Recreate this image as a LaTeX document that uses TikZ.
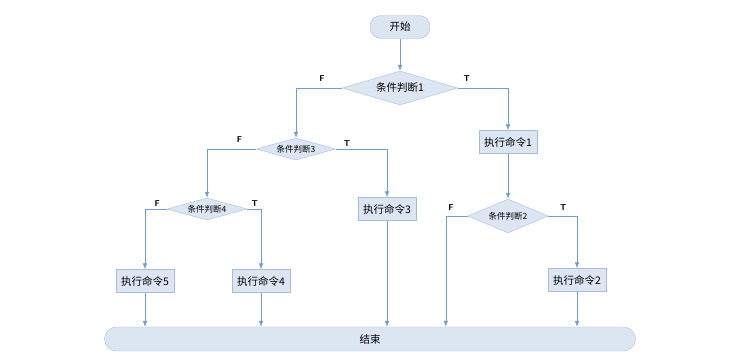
\documentclass[tikz,border=0pt]{standalone}
\usepackage{fontspec}
\usepackage{xcolor}
\usepackage{tikz}
\usetikzlibrary{shapes.geometric, positioning, arrows.meta}
\newfontfamily\cjk{Noto Sans CJK SC}
\definecolor{boxfill}{HTML}{DCE6F2}
\definecolor{boxline}{HTML}{A9BCD6}
\definecolor{flowline}{HTML}{739CCB}

\tikzset{
  terminal/.style={rectangle, rounded corners=11pt, draw=boxline, fill=boxfill,
    minimum height=23pt, font=\cjk\fontsize{10.5}{12}\selectfont},
  decision/.style={diamond, aspect=3.4, inner sep=0pt, draw=boxline, fill=boxfill,
    font=\cjk\fontsize{8.5}{10}\selectfont},
  command/.style={rectangle, draw=boxline, fill=boxfill, minimum width=58pt,
    minimum height=23pt, inner sep=1pt, font=\cjk\fontsize{10.5}{12}\selectfont},
  flow/.style={draw=flowline, line width=0.6pt, ->},
  tf/.style={font=\sffamily\bfseries\fontsize{8.5}{10}\selectfont, inner sep=1pt}
}

\begin{document}
\begin{tikzpicture}[>={Latex[length=6pt,width=4.5pt]}, on grid, x=1pt, y=-1pt]
    \useasboundingbox (0,0) rectangle (747,359);
    \node[terminal, minimum width=60pt] (start) at (400,27) {开始};
    \node[decision, minimum width=115pt, minimum height=34pt, font=\cjk\fontsize{10.5}{12}\selectfont] (d1) [below=61pt of start] {条件判断1};
    \node[decision, minimum width=79pt, minimum height=22pt] (d3) [below left=61pt and 104pt of d1] {条件判断3};
    \node[command] (c1) [below right=54pt and 108pt of d1] {执行命令1};
    \node[decision, minimum width=80pt, minimum height=22pt] (d4) [below left=60pt and 89pt of d3] {条件判断4};
    \node[command] (c3) [below right=60pt and 91pt of d3] {执行命令3};
    \node[decision, minimum width=80pt, minimum height=34pt] (d2) [below=74pt of c1] {条件判断2};
    \node[command] (c5) [below left=72pt and 62pt of d4] {执行命令5};
    \node[command] (c4) [below right=72pt and 54pt of d4] {执行命令4};
    \node[command] (c2) [below right=64pt and 69pt of d2] {执行命令2};
    \node[terminal, minimum width=531pt, minimum height=24pt, rounded corners=12pt] (end) at (370,339) {结束};
    \coordinate[left=22pt of d2.west] (f2);

    \draw[flow] (start) -- (d1);
    \draw[flow] (d1.west) -| node[tf, pos=0.22, above=5pt] {F} (d3.north);
    \draw[flow] (d1.east) -| node[tf, pos=0.09, above=5pt] {T} (c1.north);
    \draw[flow] (d3.west) -| node[tf, pos=0.17, above=5pt] {F} (d4.north);
    \draw[flow] (d3.east) -| node[tf, pos=0.11, above=1pt] {T} (c3.north);
    \draw[flow] (d4.west) -| node[tf, pos=0.22, above=1pt] {F} (c5.north);
    \draw[flow] (d4.east) -| node[tf, pos=0.27, above=1pt] {T} (c4.north);
    \draw[flow] (c1) -- (d2);
    \draw[flow] (d2.west) -- node[tf, pos=0.77, above=4pt] {F} (f2) -- (f2 |- end.north);
    \draw[flow] (d2.east) -| node[tf, pos=0.26, above=4pt] {T} (c2.north);
    \draw[flow] (c5) -- (c5 |- end.north);
    \draw[flow] (c4) -- (c4 |- end.north);
    \draw[flow] (c3) -- (c3 |- end.north);
    \draw[flow] (c2) -- (c2 |- end.north);
\end{tikzpicture}
\end{document}
